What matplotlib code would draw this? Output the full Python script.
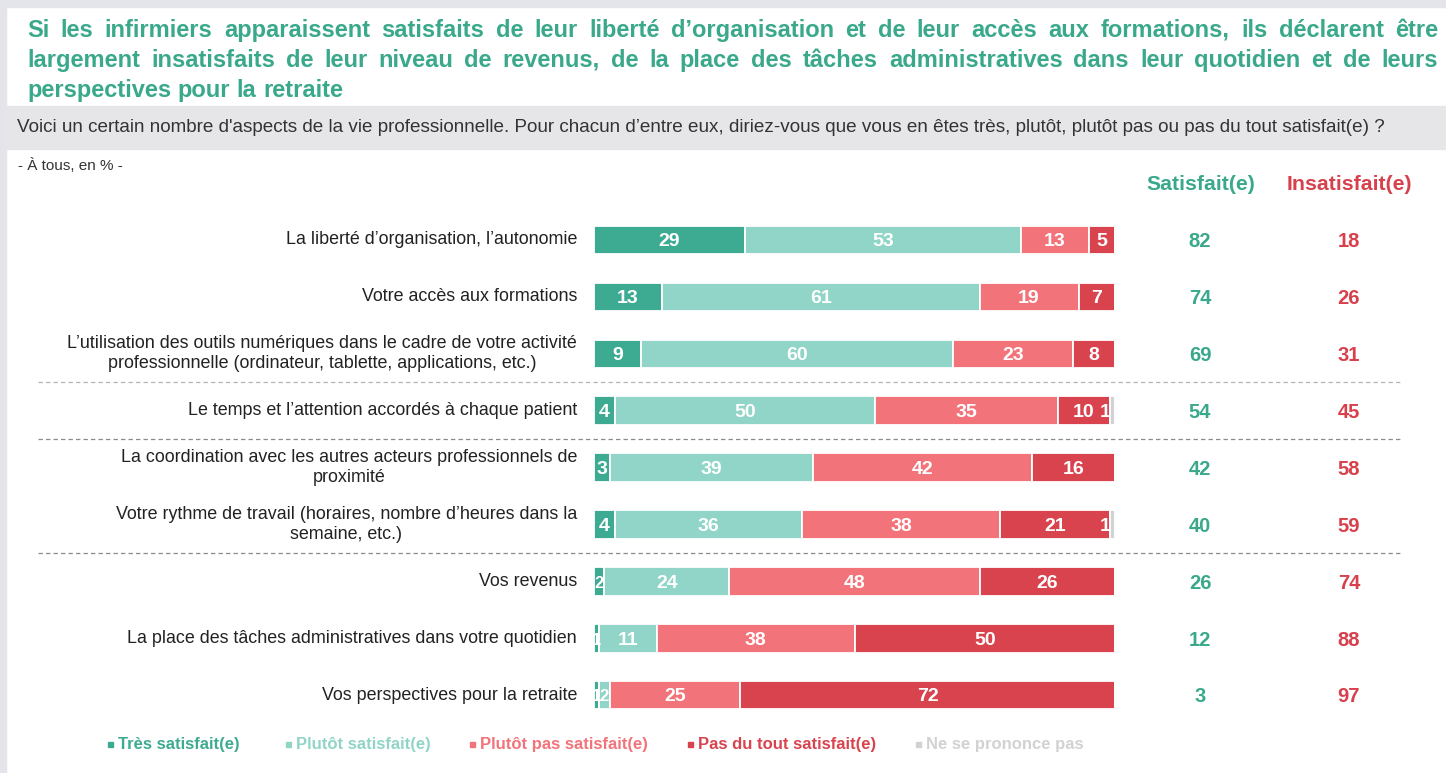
import matplotlib
matplotlib.use("Agg")
import matplotlib.pyplot as plt
from matplotlib.patches import Rectangle
from matplotlib.lines import Line2D
from matplotlib.transforms import blended_transform_factory
import numpy as np

plt.rcParams['font.family'] = ['Liberation Sans', 'DejaVu Sans']

# ---------------- data ----------------
categories = [
    "La liberté d’organisation, l’autonomie",
    "Votre accès aux formations",
    "L’utilisation des outils numériques dans le cadre de votre activité\nprofessionnelle (ordinateur, tablette, applications, etc.)",
    "Le temps et l’attention accordés à chaque patient",
    "La coordination avec les autres acteurs professionnels de\nproximité",
    "Votre rythme de travail (horaires, nombre d’heures dans la\nsemaine, etc.)",
    "Vos revenus",
    "La place des tâches administratives dans votre quotidien",
    "Vos perspectives pour la retraite",
]
tres_satisfait = [29, 13, 9, 4, 3, 4, 2, 1, 1]
plutot_satisfait = [53, 61, 60, 50, 39, 36, 24, 11, 2]
plutot_pas = [13, 19, 23, 35, 42, 38, 48, 38, 25]
pas_du_tout = [5, 7, 8, 10, 16, 21, 26, 50, 72]
nsp = [0, 0, 0, 1, 0, 1, 0, 0, 0]
total_satisfait = [82, 74, 69, 54, 42, 40, 26, 12, 3]
total_insatisfait = [18, 26, 31, 45, 58, 59, 74, 88, 97]
series_names = ["Très satisfait(e)", "Plutôt satisfait(e)", "Plutôt pas satisfait(e)",
                "Pas du tout satisfait(e)", "Ne se prononce pas"]
separators_after = [2, 3, 5]

title_lines = [
    "Si les infirmiers apparaissent satisfaits de leur liberté d’organisation et de leur accès aux formations, ils déclarent être",
    "largement insatisfaits de leur niveau de revenus, de la place des tâches administratives dans leur quotidien et de leurs",
    "perspectives pour la retraite",
]
question = ("Voici un certain nombre d'aspects de la vie professionnelle. Pour chacun d’entre eux, "
            "diriez-vous que vous en êtes très, plutôt, plutôt pas ou pas du tout satisfait(e) ?")
base_note = "- À tous, en % -"

# ---------------- style ----------------
colors = ["#3dab91", "#90d5c7", "#f27379", "#d8434e", "#d2d2d4"]
green_txt = "#3aa88b"
red_txt = "#d8404c"

W, H = 1446, 773
fig = plt.figure(figsize=(W / 100, H / 100), dpi=100)
fig.patch.set_facecolor("white")

def fx(px):
    return px / W

def fy(py):
    return 1 - py / H

# background frame
fig.patches.append(Rectangle((0, 0), fx(6), 1, transform=fig.transFigure, color="#e4e5ea", zorder=0))
fig.patches.append(Rectangle((0, fy(7)), 1, 7 / H, transform=fig.transFigure, color="#e4e5ea", zorder=0))
fig.patches.append(Rectangle((fx(6), fy(149)), 1, (149 - 106) / H, transform=fig.transFigure,
                             color="#e6e6e9", zorder=0))

# justified title
renderer = fig.canvas.get_renderer()
x0, x1 = 27, 1438
title_fs = 17
for li, line in enumerate(title_lines):
    words = line.split(" ")
    ypx = 37 + 30 * li
    texts = []
    widths = []
    for w in words:
        t = fig.text(0, fy(ypx), w, fontsize=title_fs, fontweight="bold", color=green_txt,
                     va="baseline", ha="left")
        texts.append(t)
        widths.append(t.get_window_extent(renderer).width)
    if li < len(title_lines) - 1:
        gap = (x1 - x0 - sum(widths)) / (len(words) - 1)
    else:
        sp = fig.text(0, 0, "a a", fontsize=title_fs, fontweight="bold")
        sa = fig.text(0, 0, "aa", fontsize=title_fs, fontweight="bold")
        gap = sp.get_window_extent(renderer).width - sa.get_window_extent(renderer).width
        sp.remove(); sa.remove()
    x = x0
    for t, w in zip(texts, widths):
        t.set_x(fx(x))
        x += w + gap

fig.text(fx(17), fy(128), question, fontsize=13.6, color="#333333", va="center", ha="left")
fig.text(fx(18), fy(165), base_note, fontsize=11, color="#333333", va="center", ha="left")

# ---------------- bars ----------------
bar_left_px, bar_right_px = 594, 1115
row0_px, row_step = 240, 56.9
n = len(categories)
top_px = row0_px - row_step / 2
bot_px = row0_px + row_step * (n - 1) + row_step / 2
ax = fig.add_axes([fx(bar_left_px), fy(bot_px), fx(bar_right_px - bar_left_px), (bot_px - top_px) / H])
ax.set_xlim(0, 100)
ax.set_ylim(n - 0.5, -0.5)
ax.axis("off")

y = np.arange(n)
data = [tres_satisfait, plutot_satisfait, plutot_pas, pas_du_tout, nsp]
left = np.zeros(n)
for si, (vals, c) in enumerate(zip(data, colors)):
    vals = np.array(vals, dtype=float)
    ax.barh(y, vals, left=left, height=0.5, color=c, edgecolor="white", linewidth=1.3, zorder=2)
    for i, v in enumerate(vals):
        if v <= 0:
            continue
        cx = left[i] + v / 2
        fs = 14
        if si == 4:
            cx = left[i] + v / 2 - 1.3
        elif v <= 2:
            fs = 12
        ax.text(cx, i + 0.03, f"{int(v)}", ha="center", va="center", color="white",
                fontsize=fs, fontweight="bold", zorder=3)
    left += vals

trans = blended_transform_factory(fig.transFigure, ax.transData)
for i, cat in enumerate(categories):
    ax.text(fx(577), i, cat, transform=trans, ha="right", va="center", multialignment="center",
            fontsize=12.9, color="#222222", linespacing=1.25)
    ax.text(fx(1200), i + 0.03, str(total_satisfait[i]), transform=trans, ha="center", va="center",
            fontsize=14.5, fontweight="bold", color=green_txt)
    ax.text(fx(1349), i + 0.03, str(total_insatisfait[i]), transform=trans, ha="center", va="center",
            fontsize=14.5, fontweight="bold", color=red_txt)

for k, s in enumerate(separators_after):
    col = "#b5b5b5" if k == 0 else "#8a8a8a"
    ax.add_line(Line2D([fx(38), fx(1403)], [s + 0.5, s + 0.5], transform=trans, color=col,
                       linestyle=(0, (3.5, 2.5)), linewidth=0.9, clip_on=False))

fig.text(fx(1201), fy(185), "Satisfait(e)", fontsize=15.3, fontweight="bold", color=green_txt,
         ha="center", va="center")
fig.text(fx(1349), fy(185), "Insatisfait(e)", fontsize=15.3, fontweight="bold", color=red_txt,
         ha="center", va="center")

# ---------------- legend ----------------
legend_text_colors = ["#3dab91", "#90d5c7", "#f27379", "#d8434e", "#d2d2d4"]
legend_x = [108, 286, 470, 688, 916]
for name, c, tc, lx in zip(series_names, colors, legend_text_colors, legend_x):
    fig.patches.append(Rectangle((fx(lx), fy(747)), fx(5), 5 / H, transform=fig.transFigure, color=c))
    fig.text(fx(lx + 10), fy(744), name, fontsize=12, fontweight="bold", color=tc, ha="left", va="center")

fig.savefig("out.png", dpi=100, facecolor="white")
